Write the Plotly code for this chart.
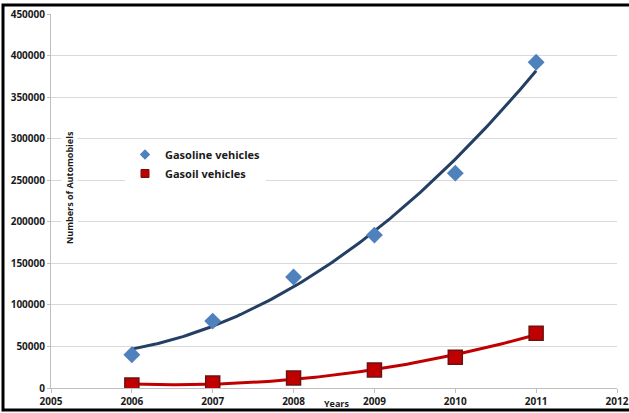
import numpy as np
import plotly.graph_objects as go

years = [2006, 2007, 2008, 2009, 2010, 2011]
gasoline = [40000, 80500, 133500, 184000, 258500, 392000]
gasoil = [3600, 6000, 12000, 21700, 37000, 66000]

x_ticks = [2005, 2006, 2007, 2008, 2009, 2010, 2011, 2012]
y_ticks = list(range(0, 450001, 50000))

# polynomial (order 2) trendlines, as in the original spreadsheet chart
xs = np.linspace(years[0], years[-1], 120)
fit_gl = np.polyval(np.polyfit(np.array(years) - 2006, gasoline, 2), xs - 2006)
fit_go = np.polyval(np.polyfit(np.array(years) - 2006, gasoil, 2), xs - 2006)

FONT = "Open Sans"
TXT = "#1a1a1a"
BOLD10 = dict(family=FONT, size=10, color=TXT, weight="bold")

fig = go.Figure()
fig.add_trace(go.Scatter(x=xs, y=fit_gl, mode="lines", showlegend=False,
                         line=dict(color="#243f63", width=3), hoverinfo="skip"))
fig.add_trace(go.Scatter(x=xs, y=fit_go, mode="lines", showlegend=False,
                         line=dict(color="#c00000", width=3), hoverinfo="skip"))
fig.add_trace(go.Scatter(x=years, y=gasoline, mode="markers", name="Gasoline vehicles",
                         showlegend=False,
                         marker=dict(symbol="diamond", size=13, color="#4f81bd",
                                     line=dict(width=0))))
fig.add_trace(go.Scatter(x=years, y=gasoil, mode="markers", name="Gasoil vehicles",
                         showlegend=False,
                         marker=dict(symbol="square", size=14, color="#c00000",
                                     line=dict(width=1.5, color="#6e1010"))))
# legend entries (smaller symbols, as in the original legend)
fig.add_trace(go.Scatter(x=[None], y=[None], mode="markers", name="Gasoline vehicles",
                         marker=dict(symbol="diamond", size=8, color="#4f81bd")))
fig.add_trace(go.Scatter(x=[None], y=[None], mode="markers", name="Gasoil vehicles",
                         marker=dict(symbol="square", size=8, color="#c00000",
                                     line=dict(width=1, color="#6e1010"))))

fig.update_layout(
    width=629, height=413,
    margin=dict(l=51, r=12, t=14, b=25),
    paper_bgcolor="white", plot_bgcolor="white",
    font=dict(family=FONT, size=10, color=TXT),
    legend=dict(x=(125 - 51) / 566, y=(388 - 140) / 374, xanchor="left", yanchor="top",
                bgcolor="white", font=dict(family=FONT, size=11, color=TXT, weight="bold"),
                itemsizing="trace", tracegroupgap=0, itemwidth=30),
    xaxis=dict(range=[2005, 2012], tickvals=x_ticks, showgrid=False, zeroline=False,
               showline=True, linecolor="#bfbfbf", linewidth=1, automargin=False,
               ticks="outside", ticklen=4, tickcolor="#bfbfbf", tickfont=BOLD10),
    yaxis=dict(range=[0, 450000], tickvals=y_ticks, tickformat="d", automargin=False,
               showgrid=True, gridcolor="#d9d9d9", gridwidth=1, zeroline=False,
               showline=True, linecolor="#bfbfbf", linewidth=1,
               ticks="outside", ticklen=3, tickcolor="#bfbfbf", tickfont=BOLD10),
    showlegend=True,
)

fig.add_annotation(text="Numbers of Automobiels", textangle=-90, xref="paper", yref="paper",
                   x=(69 - 51) / 566, y=(388 - 188) / 374, xanchor="center", yanchor="middle",
                   showarrow=False, bgcolor="white",
                   font=dict(family=FONT, size=9, color=TXT, weight="bold"))
fig.add_annotation(text="Years", xref="paper", yref="paper",
                   x=(336 - 51) / 566, y=(388 - 403) / 374, xanchor="center", yanchor="middle",
                   showarrow=False, font=dict(family=FONT, size=9, color=TXT, weight="bold"))

# black frame around the picture
fig.add_shape(type="rect", xref="paper", yref="paper",
              x0=(3 - 51) / 566, x1=(645 - 51) / 566,
              y0=(388 - 410) / 374, y1=(388 - 5) / 374,
              line=dict(color="black", width=3), fillcolor="rgba(0,0,0,0)", layer="above")

fig.write_html("out.html")
